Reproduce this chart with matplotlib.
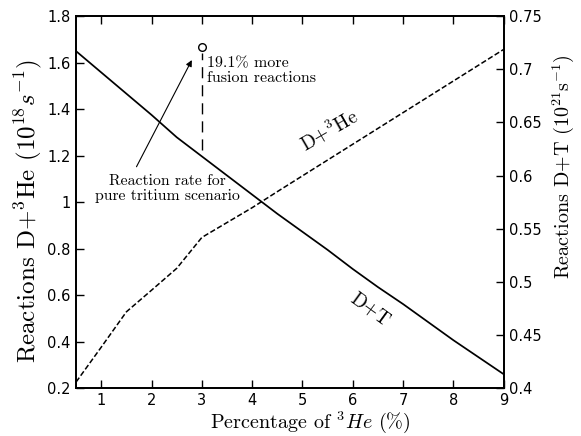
import matplotlib
matplotlib.use("Agg")
import matplotlib.pyplot as plt
from matplotlib.ticker import FixedLocator

plt.rcParams['mathtext.fontset'] = 'cm'
plt.rcParams['axes.unicode_minus'] = False

# Data
he3_pct = [0.5, 1.0, 1.5, 2.0, 2.5, 3.0, 3.5, 4.0, 4.5, 5.0, 5.5, 6.0, 6.5, 7.0, 7.5, 8.0, 8.5, 9.0]
dhe3_rate = [0.226, 0.376, 0.528, 0.621, 0.715, 0.848, 0.912, 0.976, 1.045, 1.113, 1.181, 1.249,
             1.317, 1.385, 1.453, 1.521, 1.589, 1.657]          # 10^18 s^-1 (left axis)
dt_rate = [0.717, 0.697, 0.677, 0.657, 0.636, 0.618, 0.600, 0.582, 0.564, 0.547, 0.530, 0.512,
           0.495, 0.479, 0.462, 0.445, 0.429, 0.413]            # 10^21 s^-1 (right axis)

x_ticks = [1, 2, 3, 4, 5, 6, 7, 8, 9]
left_ticks = [0.2, 0.4, 0.6, 0.8, 1.0, 1.2, 1.4, 1.6, 1.8]
left_labels = ['0.2', '0.4', '0.6', '0.8', '1', '1.2', '1.4', '1.6', '1.8']
right_ticks = [0.4, 0.45, 0.5, 0.55, 0.6, 0.65, 0.7, 0.75]
right_labels = ['0.4', '0.45', '0.5', '0.55', '0.6', '0.65', '0.7', '0.75']

pure_tritium_x = 3.0
pure_tritium_top = 1.668
pure_tritium_bottom = 1.225

serif = 'cmr10'
sans = 'DejaVu Sans'

fig = plt.figure(figsize=(5.81, 4.36), dpi=100)
ax = fig.add_axes([0.131, 0.110, 0.736, 0.853])
ax2 = ax.twinx()

ax.plot(he3_pct, dhe3_rate, color='black', lw=1.1, linestyle=(0, (3.5, 1.6)))
ax2.plot(he3_pct, dt_rate, color='black', lw=1.25)

ax.set_xlim(0.5, 9)
ax.set_ylim(0.2, 1.8)
ax2.set_ylim(0.4, 0.75)

ax.xaxis.set_major_locator(FixedLocator(x_ticks))
ax.set_xticklabels([str(v) for v in x_ticks], fontfamily=sans, fontsize=10.5)
ax.yaxis.set_major_locator(FixedLocator(left_ticks))
ax.set_yticklabels(left_labels, fontfamily=sans, fontsize=10.5)
ax2.yaxis.set_major_locator(FixedLocator(right_ticks))
ax2.set_yticklabels(right_labels, fontfamily=sans, fontsize=10.5)

ax.tick_params(axis='x', direction='in', length=6, width=1.0, top=True, pad=3.5)
ax.tick_params(axis='y', direction='in', length=6, width=1.0, right=False, pad=4)
ax2.tick_params(axis='y', direction='in', length=6, width=1.0, pad=4)

for a in (ax, ax2):
    for s in a.spines.values():
        s.set_linewidth(1.3)

# x label as figure text positioned by its baseline
fig.text((76 + 0.547 * 428) / 581, (436 - 428) / 436, r'Percentage of $^{3}He$ (%)',
         fontfamily=serif, fontsize=14.5, ha='center', va='baseline')
ax.set_ylabel(r'Reactions D+$^{3}$He ($10^{18}s^{-1}$)', fontfamily=serif, fontsize=18, labelpad=2)
ax.yaxis.label.set_y(0.476)
ax2.set_ylabel(r'Reactions D+T ($10^{21}\mathrm{s}^{-1}$)', fontfamily=serif, fontsize=14.5, labelpad=6)
ax2.yaxis.label.set_y(0.594)

# vertical dashed marker line and open circle
ax.plot([pure_tritium_x, pure_tritium_x], [pure_tritium_bottom, pure_tritium_top - 0.025],
        color='black', lw=1.0, linestyle=(0, (8, 5)))
ax.plot([pure_tritium_x], [pure_tritium_top], marker='o', markersize=5.5,
        markerfacecolor='white', markeredgecolor='black', markeredgewidth=1.0)

ax.text(3.1, 1.566, '19.1% more\nfusion reactions', fontfamily=serif, fontsize=11.5,
        ha='left', va='center', linespacing=1.1)

ax.text(2.32, 1.056, 'Reaction rate for\npure tritium scenario', fontfamily=serif, fontsize=11.3,
        ha='center', va='center', linespacing=1.1)
ax.annotate('', xy=(2.80, 1.611), xytext=(1.70, 1.152),
            arrowprops=dict(arrowstyle='-|>', color='black', lw=0.8, mutation_scale=9,
                            shrinkA=0, shrinkB=0))

ax.text(5.54, 1.31, r'D+$^{3}$He', fontfamily=serif, fontsize=14, rotation=30,
        ha='center', va='center', rotation_mode='anchor')
ax.text(6.35, 0.535, 'D+T', fontfamily=serif, fontsize=14, rotation=-36,
        ha='center', va='center', rotation_mode='anchor')

fig.savefig('out.png', dpi=100)
